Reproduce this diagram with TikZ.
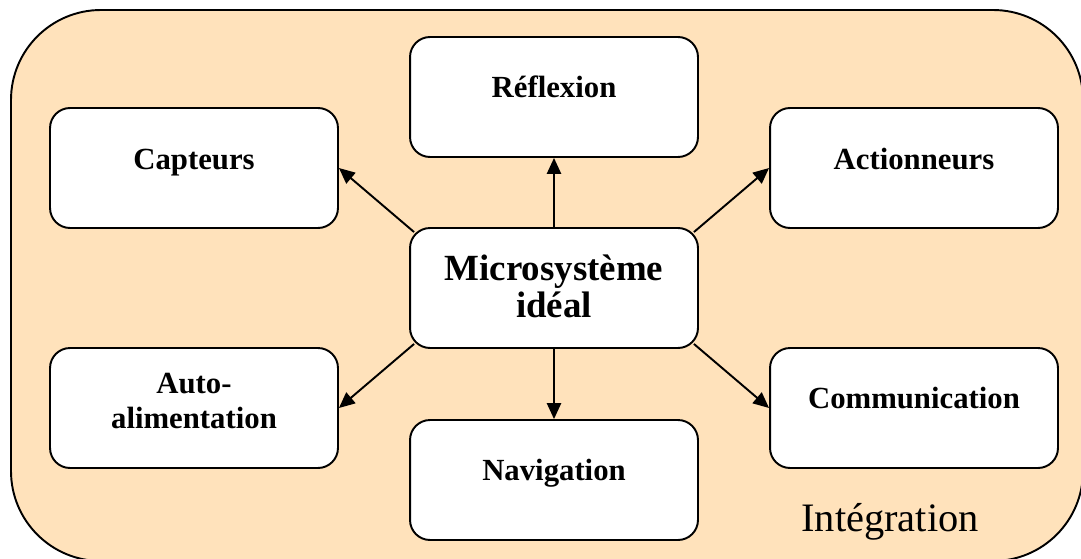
\documentclass[tikz,border=0pt]{standalone}
\usepackage{fontspec}
\setmainfont{Liberation Serif}
\usetikzlibrary{arrows.meta}
\definecolor{peach}{RGB}{255,226,187}
\tikzset{
    bloc/.style={draw, line width=1.1pt, fill=white, rounded corners=0.4cm,
        minimum width=5.76cm, minimum height=2.4cm},
    lbl/.style={font=\bfseries\fontsize{17.5}{20}\selectfont, align=center, inner sep=0pt},
    fleche/.style={line width=1.1pt, -{Triangle[length=9pt,width=8pt]}}
}
\begin{document}
\begin{tikzpicture}[x=0.02cm,y=-0.02cm]
        \useasboundingbox (0,0) rectangle (1081,558);
        \draw[line width=1.1pt, fill=peach, rounded corners=1.8cm] (11,10) rectangle (1083,561);
        % les blocs
        \node[bloc] (mid) at (554,288) {};
        \node[bloc] (refl) at (554,97) {};
        \node[bloc] (capt) at (194,168) {};
        \node[bloc] (act) at (914,168) {};
        \node[bloc] (auto) at (194,408) {};
        \node[bloc] (nav) at (554,480) {};
        \node[bloc] (comm) at (914,408) {};
        % les textes
        \node[lbl, font=\bfseries\fontsize{21}{21}\selectfont] (mid-t) at ([shift={(0,-1.5)}]mid) {Microsystème\\idéal};
        \node[lbl] (refl-t) at ([shift={(0,-10)}]refl) {Réflexion};
        \node[lbl] (capt-t) at ([shift={(0,-5)}]capt) {Capteurs};
        \node[lbl] (act-t) at ([shift={(0,-9)}]act) {Actionneurs};
        \node[lbl] (auto-t) at ([shift={(0,-7)}]auto) {Auto-\\alimentation};
        \node[lbl] (nav-t) at ([shift={(0,-7)}]nav) {Navigation};
        \node[lbl] (comm-t) at ([shift={(0,-10)}]comm) {Communication};
        \node[font=\fontsize{23}{23}\selectfont, inner sep=0pt] (integ) at (890,522) {Intégration};
        % les fleches
        \draw[fleche] (mid.north) -- (refl.south);
        \draw[fleche] (mid.south) -- (nav.north);
        \draw[fleche] ([shift={(5,5)}]mid.north west) -- (capt.east);
        \draw[fleche] ([shift={(-5,5)}]mid.north east) -- (act.west);
        \draw[fleche] ([shift={(5,-5)}]mid.south west) -- (auto.east);
        \draw[fleche] ([shift={(-5,-5)}]mid.south east) -- (comm.west);
    \end{tikzpicture}
\end{document}
